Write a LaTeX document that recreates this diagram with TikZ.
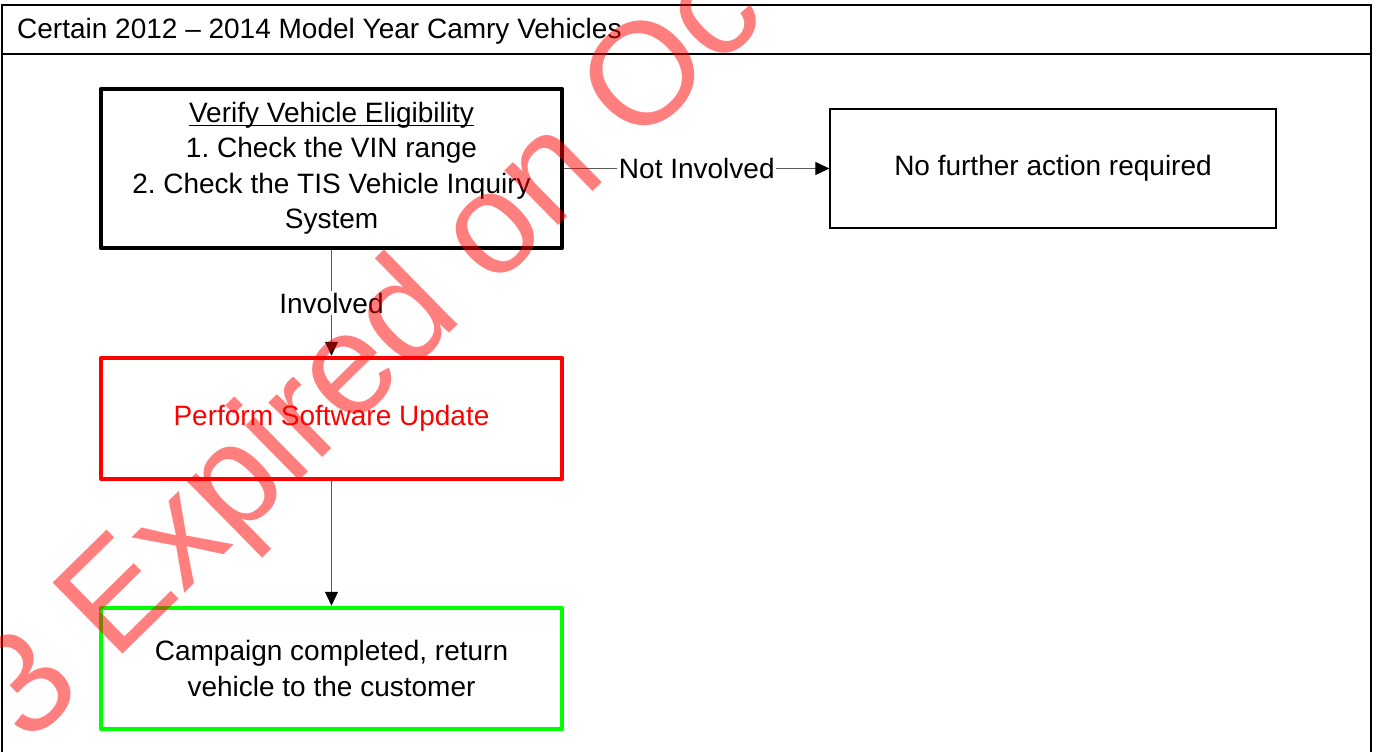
\documentclass[tikz,border=0pt]{standalone}
\usepackage{fontspec}
\setmainfont{Liberation Sans}
\usetikzlibrary{arrows.meta}
\frenchspacing
\newcommand{\diagfont}{\fontsize{28}{35.5}\selectfont}
\newcommand{\myul}[1]{\leavevmode\setbox0\hbox{#1}\rlap{\rule[-3.5pt]{\wd0}{1.4pt}}\box0}
\begin{document}
\begin{tikzpicture}[x=1pt,y=-1pt,
  frameline/.style={line width=2.6pt},
  bigbox/.style={draw, rectangle, line width=4.5pt, line join=round, minimum width=461pt,
                 inner sep=0pt, align=center, font=\diagfont},
  thinbox/.style={draw, rectangle, line width=1.3pt, inner sep=0pt, align=center, font=\diagfont},
  conn/.style={draw=black!65, line width=1pt, -{Triangle[length=14pt,width=13pt,color=black]}},
  lbl/.style={fill=white, inner sep=1.5pt, font=\diagfont}]
\useasboundingbox (0,0) rectangle (1379,752);
\clip (0,0) rectangle (1379,752);
% frame and header
\draw[frameline] (2,800) -- (2,5) -- (1371,5) -- (1371,800);
\draw[frameline] (2,54) -- (1371,54);
\node[anchor=base west, inner sep=0pt, font=\diagfont] (title) at (17,39) {Certain 2012 – 2014 Model Year Camry Vehicles};
% boxes
\node[bigbox, minimum height=159pt] (verify) at (331.5,168.5)
  {\myul{Verify Vehicle Eligibility}\\1. Check the VIN range\\2. Check the TIS Vehicle Inquiry\\System};
\node[thinbox, minimum width=446pt, minimum height=119pt] (none) at (1053,168.5) {No further action required};
\node[bigbox, draw=red, text=red, minimum height=121pt] (update) at (331.5,418.5) {Perform Software Update};
\node[bigbox, draw=green, minimum height=121pt] (done) at (331.5,668.5) {Campaign completed, return\\vehicle to the customer};
% connectors
\draw[conn] (verify.east) -- node[lbl] {Not Involved} (none.west);
\draw[conn] (verify.south) -- node[lbl] {Involved} (update.north);
\draw[conn] (update.south) -- (done.north);
% watermark
\node[anchor=base west, rotate=44.5, inner sep=0pt, text=red, opacity=0.5,
      font=\fontsize{145}{145}\selectfont] (wm) at (28,747) {3 Expired on Oc};
\end{tikzpicture}
\end{document}
